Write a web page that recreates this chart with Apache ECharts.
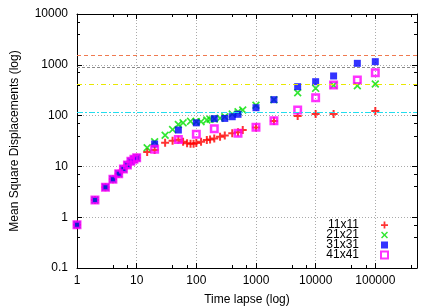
<!DOCTYPE html>
<html><head><meta charset="utf-8">
<script src="https://cdn.jsdelivr.net/npm/echarts@6/dist/echarts.min.js"></script>
<style>html,body{margin:0;padding:0;background:#fff}#c{width:436px;height:306px}</style>
</head><body><div id="c"></div>
<script>
// ---- data ----
const seriesNames = ['11x11', '21x21', '31x31', '41x41'];
const xTickLabels = [1, 10, 100, 1000, 10000, 100000];
const yTickLabels = [0.1, 1, 10, 100, 1000, 10000];

const redX = [1,2,3,4,5,6,7,8,9,10,15,20,30,40,50,60,70,80,90,100,120,150,170,200,250,300,400,500,600,1000,2000,5000,10000,20000,100000];
const redY = [0.71,2.18,3.9,5.6,7.2,8.9,10.7,12.6,13.8,14.8,19.2,21,29.3,32,33.5,30.5,28.5,27.8,28,29,30.5,33,34,35.5,38.5,40.5,45,47,52,58,78,98,108,108,123];

const greenX = [1,2,3,4,5,6,7,8,9,10,15,20,30,40,50,60,80,100,120,150,170,200,250,300,400,500,600,1000,2000,5000,10000,20000,50000,100000];
const greenY = [0.71,2.18,3.9,5.6,7.2,8.9,10.7,12.6,13.8,14.8,23.3,30.5,41,53,67,72,77,76,76,82,85,86,89,95,107,119,129,160,205,282,344,395,388,419];

const blueX = [1,2,3,4,5,6,7,8,9,10,20,50,100,200,300,400,500,1000,2000,5000,10000,20000,50000,100000];
const blueY = [0.71,2.18,3.9,5.6,7.2,8.9,10.7,12.6,13.8,14.8,27.6,52,72,87,88,95,106,143,206,371,465,603,1069,1153];

const magentaX = [1,2,3,4,5,6,7,8,9,10,20,50,100,200,500,1000,2000,5000,10000,20000,50000,100000];
const magentaY = [0.71,2.18,3.9,5.6,7.2,8.9,10.7,12.6,13.8,14.8,21.7,34,43,55,45,59,79,129,225,400,502,700];

const refLevels = [1550, 880, 420, 118];
// ---- end data ----

const zip = (xs, ys) => xs.map((x, i) => [x, ys[i]]);
const isPow10 = v => Math.abs(Math.log10(v) - Math.round(Math.log10(v))) < 1e-6;
const FONT = 'Liberation Sans, Arial, Helvetica, sans-serif';

const plusPath = 'path://M0,3L3,3L3,0L5,0L5,3L8,3L8,5L5,5L5,8L3,8L3,5L0,5Z';
const crossPath = 'path://M0,1.2L1.2,0L4,2.8L6.8,0L8,1.2L5.2,4L8,6.8L6.8,8L4,5.2L1.2,8L0,6.8L2.8,4Z';

const refStyles = [
  {color: '#f07a50', type: [4, 3], width: 1},
  {color: '#8a8a8a', type: [3, 2], width: 1},
  {color: '#e8e800', type: [5, 3, 1, 3], width: 1},
  {color: '#22ddee', type: [6, 2, 2, 2], width: 1}
];

const baseX = {
  type: 'log', logBase: 10, min: 1, max: 500000, interval: 1,
  axisLine: {show: true, lineStyle: {color: '#000', width: 1}},
  axisTick: {show: true, inside: true, length: 5, lineStyle: {color: '#000'}},
  minorTick: {show: true, splitNumber: 3, length: 3, lineStyle: {color: '#000'}},
  splitLine: {show: false}
};
const baseY = {
  type: 'log', logBase: 10, min: 0.1, max: 10000, interval: 1,
  axisLine: {show: true, lineStyle: {color: '#000', width: 1}},
  axisTick: {show: true, inside: true, length: 5, lineStyle: {color: '#000'}},
  minorTick: {show: true, splitNumber: 3, length: 3, lineStyle: {color: '#000'}},
  splitLine: {show: false}
};

const chart = echarts.init(document.getElementById('c'), null, {renderer: 'canvas'});
chart.setOption({
  animation: false,
  backgroundColor: '#fff',
  textStyle: {fontFamily: FONT},
  grid: {left: 77, right: 19, top: 14, bottom: 38, containLabel: false, outerBoundsMode: 'none'},
  xAxis: [
    Object.assign({}, baseX, {
      position: 'bottom',
      name: 'Time lapse (log)', nameLocation: 'middle', nameGap: 26,
      nameTextStyle: {color: '#000', fontSize: 12, fontFamily: FONT},
      axisLabel: {color: '#000', fontSize: 12, fontFamily: FONT, margin: 7,
        formatter: v => (isPow10(v) && xTickLabels.some(t => Math.abs(t - v) / t < 1e-6)) ? String(Math.round(v)) : ''},
      splitLine: {show: true, lineStyle: {color: '#aaa', type: [1, 2], width: 1}}
    }),
    Object.assign({}, baseX, {position: 'top', axisLabel: {show: false}})
  ],
  yAxis: [
    Object.assign({}, baseY, {
      position: 'left',
      name: 'Mean Square Displacements (log)', nameLocation: 'middle', nameGap: 56, nameRotate: 90,
      nameTextStyle: {color: '#000', fontSize: 12, fontFamily: FONT},
      axisLabel: {color: '#000', fontSize: 12, fontFamily: FONT, margin: 9,
        formatter: v => {
          const t = yTickLabels.find(t => Math.abs(t - v) / t < 1e-6);
          return t === undefined ? '' : String(t);
        }},
      splitLine: {show: true, lineStyle: {color: '#aaa', type: [1, 2], width: 1}}
    }),
    Object.assign({}, baseY, {position: 'right', axisLabel: {show: false}})
  ],
  legend: {
    data: seriesNames,
    orient: 'vertical',
    right: 42, top: 214,
    align: 'right',
    itemWidth: 7, itemHeight: 7, itemGap: -2,
    textStyle: {color: '#000', fontSize: 12, fontFamily: FONT, padding: [0, 17, 0, 0]}
  },
  series: [
    {
      type: 'scatter', name: '__ref', data: [], z: 1, silent: true,
      markLine: {
        silent: true, symbol: 'none', label: {show: false}, animation: false,
        data: refLevels.map((v, i) => ({yAxis: v, lineStyle: refStyles[i]}))
      }
    },
    {
      type: 'scatter', name: seriesNames[0], data: zip(redX, redY), z: 3,
      symbol: plusPath, symbolSize: 8, itemStyle: {color: '#ff0000'}
    },
    {
      type: 'scatter', name: seriesNames[1], data: zip(greenX, greenY), z: 3,
      symbol: crossPath, symbolSize: 8, itemStyle: {color: '#00e000'}
    },
    {
      type: 'scatter', name: seriesNames[2], data: zip(blueX, blueY), z: 3,
      symbol: 'rect', symbolSize: 7, itemStyle: {color: '#0000ff'}
    },
    {
      type: 'scatter', name: seriesNames[3], data: zip(magentaX, magentaY), z: 3,
      symbol: 'rect', symbolSize: 6.5,
      itemStyle: {color: 'rgba(255,255,255,0)', borderColor: '#ff00ff', borderWidth: 2.5}
    }
  ]
});
</script>
</body></html>
